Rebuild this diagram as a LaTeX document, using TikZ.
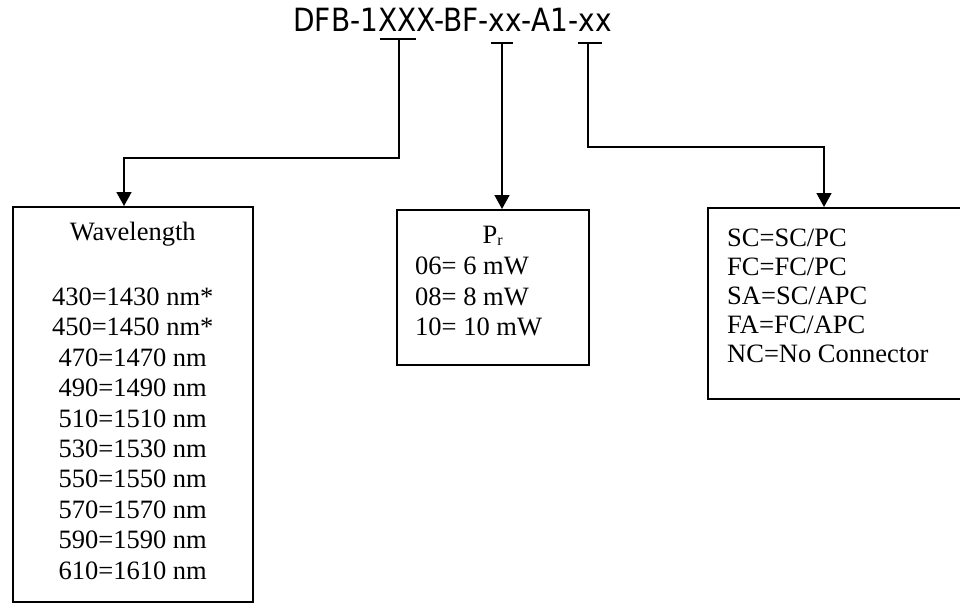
\documentclass[tikz,border=0pt]{standalone}
\usepackage{fontspec}
\setmainfont{Liberation Serif}
\newfontfamily\codefont{DejaVu Sans}
\usetikzlibrary{arrows.meta, positioning}
\tikzset{
  codebox/.style={rectangle, draw=black, line width=1.5pt, inner sep=0pt, anchor=north west},
  boxtext/.style={inner sep=0pt, font=\fontsize{26.5}{30.4}\selectfont},
  conn/.style={-{Triangle[length=14pt, width=15pt]}, line width=1.6pt},
  teebar/.style={line width=1.6pt},
}
\begin{document}
\begin{tikzpicture}[x=1pt, y=-1pt]
  \useasboundingbox (0,0) rectangle (960,602);
  % part number
  \node[inner sep=0pt, anchor=base, font=\codefont\fontsize{32}{34}\selectfont] (code) at (452.5,32) {\scalebox{0.875}[1]{DFB-1XXX-BF-xx-A1-xx}};
  \coordinate (tee1) at (399,39);
  \coordinate (tee2) at (502,43);
  \coordinate (tee3) at (588,43);
  \draw[teebar] ([xshift=-19pt]tee1) -- ([xshift=17pt]tee1);
  \draw[teebar] ([xshift=-11pt]tee2) -- ([xshift=11pt]tee2);
  \draw[teebar] ([xshift=-10pt]tee3) -- ([xshift=14pt]tee3);

  % option boxes
  \node[codebox, minimum width=240pt, minimum height=395pt] (wlbox) at (12,206) {};
  \node[codebox, minimum width=192pt, minimum height=155pt] (prbox) at (396,209) {};
  \node[codebox, minimum width=300pt, minimum height=191pt] (conbox) at (707,207) {};
  \coordinate (wlin) at (124,206);
  \coordinate (prin) at (502,209);
  \coordinate (conin) at (824,207);

  % box texts
  \node[boxtext, align=center, anchor=north, below=16pt of wlbox.north] (wltext) {Wavelength\\[34.6pt]
    430=1430 nm*\\450=1450 nm*\\470=1470 nm\\490=1490 nm\\510=1510 nm\\
    530=1530 nm\\550=1550 nm\\570=1570 nm\\590=1590 nm\\610=1610 nm};
  \node[boxtext, anchor=north, below=16.5pt of prbox.north] (prhead) {P\raisebox{-0.2ex}{\fontsize{16}{16}\selectfont r}};
  \node[boxtext, align=left, anchor=north west] (prtext) at (415,257) {06= 6 mW\\08= 8 mW\\10= 10 mW};
  \node[boxtext, align=left, anchor=north west, font=\fontsize{26.5}{29}\selectfont] (context) at (727,229) {SC=SC/PC\\FC=FC/PC\\SA=SC/APC\\FA=FC/APC\\NC=No Connector};

  % connectors
  \draw[conn] (tee1) -- ++(0,119) -| (wlin);
  \draw[conn] (tee2) -- (prin);
  \draw[conn] (tee3) -- ++(0,104) -| (conin);
\end{tikzpicture}
\end{document}
